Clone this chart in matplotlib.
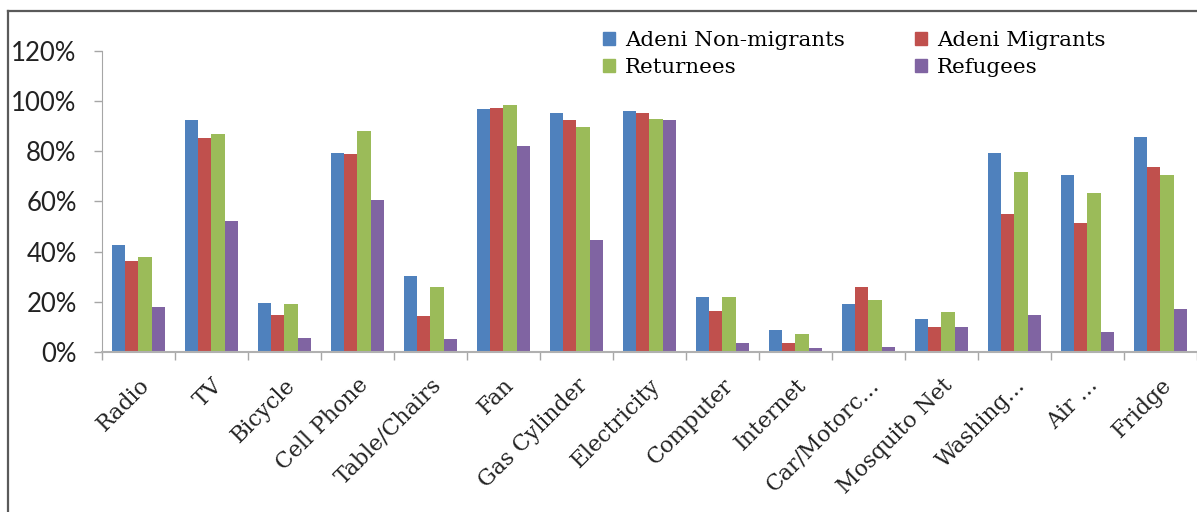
import matplotlib.pyplot as plt
import numpy as np
from matplotlib.lines import Line2D
from matplotlib.patches import Patch
from matplotlib.ticker import FuncFormatter, FixedLocator

# household assets owned, share of households per group
items = ["Radio", "TV", "Bicycle", "Cell Phone", "Table/Chairs", "Fan",
         "Gas Cylinder", "Electricity", "Computer", "Internet", "Car/Motorc...",
         "Mosquito Net", "Washing...", "Air ...", "Fridge"]
non_migrants = [42.8, 92.3, 19.5, 79.4, 30.3, 96.7, 95.1, 96.1, 21.8, 8.8, 19.1, 13.1, 79.4, 70.3, 85.8]
migrants = [36.3, 85.4, 14.7, 78.9, 14.3, 97.2, 92.4, 95.1, 16.5, 3.6, 26.0, 10.0, 54.8, 51.5, 73.6]
returnees = [37.8, 87.0, 19.0, 88.0, 26.0, 98.3, 89.6, 92.8, 21.8, 7.2, 20.7, 15.8, 71.8, 63.2, 70.3]
refugees = [18.1, 52.1, 5.4, 60.7, 5.0, 82.2, 44.5, 92.4, 3.6, 1.5, 1.9, 10.0, 14.7, 7.8, 17.0]

series = [("Adeni Non-migrants", non_migrants, "#4F81BD"),
          ("Adeni Migrants", migrants, "#C0504D"),
          ("Returnees", returnees, "#9BBB59"),
          ("Refugees", refugees, "#8064A2")]

W, H = 1197, 512
fig = plt.figure(figsize=(W / 100, H / 100), dpi=100)
ax = fig.add_axes([101.7 / W, 1 - 352 / H, 1095 / W, 301.3 / H])

x = np.arange(len(items))
w = 0.1825
for k, (name, vals, col) in enumerate(series):
    ax.bar(x + (k - 1.5) * w, vals, width=w, color=col, edgecolor="none", label=name)

ax.set_xlim(-0.5, len(items) - 0.5)
ax.set_ylim(0, 120)
ax.set_yticks(np.arange(0, 121, 20))
ax.yaxis.set_major_formatter(FuncFormatter(lambda v, p: f"{v:.0f}%"))

# ticks sit between the groups, labels under each group
ax.xaxis.set_major_locator(FixedLocator(np.arange(-0.5, len(items), 1.0)))
ax.xaxis.set_major_formatter(FuncFormatter(lambda v, p: ""))
ax.xaxis.set_minor_locator(FixedLocator(x))
ax.set_xticklabels(items, minor=True, rotation=45, ha="right", va="top",
                   rotation_mode="anchor", family="DejaVu Serif", fontsize=15.8,
                   color="#222222")
ax.tick_params(axis="x", which="minor", length=0, pad=16)
ax.tick_params(axis="x", which="major", length=6, color="#A6A6A6", width=1)
ax.tick_params(axis="y", length=6, color="#A6A6A6", width=1, pad=12,
               labelsize=18.5, labelcolor="#222222")
for lab in ax.get_yticklabels():
    lab.set_family("Lato")

for s in ["top", "right"]:
    ax.spines[s].set_visible(False)
ax.spines["left"].set_color("#A6A6A6")
ax.spines["bottom"].set_color("#B0B0B0")
ax.spines["bottom"].set_linewidth(1.5)

handles = [Patch(color=c) for _, _, c in series]
order = [0, 2, 1, 3]
fig.legend([handles[i] for i in order], [series[i][0] for i in order], ncol=2,
           loc="upper left", bbox_to_anchor=(603 / W, 1 - 31 / H), frameon=False,
           prop={"family": "DejaVu Serif", "size": 15.4},
           handlelength=0.56, handleheight=0.56, handletextpad=0.46,
           columnspacing=3.3, labelspacing=0.37, borderaxespad=0, borderpad=0)

# frame lines along the top and left of the figure
fig.add_artist(Line2D([8 / W, 1], [1 - 11 / H, 1 - 11 / H], color="#5A5A5A", lw=1.6,
                      transform=fig.transFigure))
fig.add_artist(Line2D([8 / W, 8 / W], [0, 1 - 11 / H], color="#5A5A5A", lw=1.6,
                      transform=fig.transFigure))

fig.savefig("out.png", dpi=100)
